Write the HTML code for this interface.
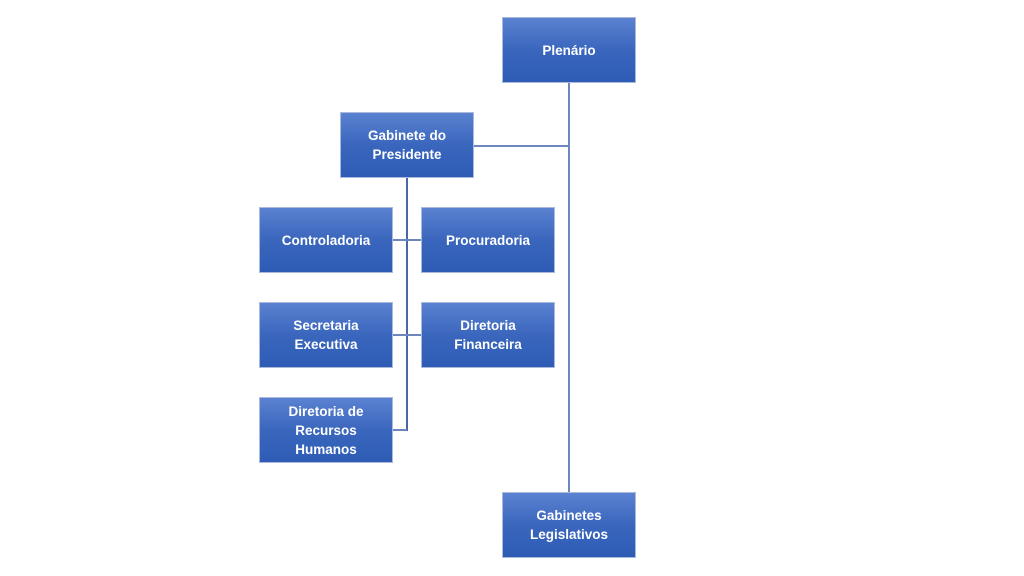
<!DOCTYPE html>
<html><head><style>
body{margin:0;width:1024px;height:576px;background:#fff;position:relative;overflow:hidden;font-family:"Liberation Sans",sans-serif}
.b{position:absolute;width:134px;height:66px;background:linear-gradient(#5b82d1,#3a66bd 50%,#2e5cb5);border:1px solid #aab9dc;box-sizing:border-box;color:#fff;font-weight:bold;font-size:13.5px;line-height:19px;display:flex;align-items:center;justify-content:center;text-align:center}
.l{position:absolute;background:#6d86bd}
</style></head><body>
<div class="l" style="left:568px;top:83px;width:2px;height:410px"></div>
<div class="l" style="left:473px;top:145px;width:96px;height:2px"></div>
<div class="l" style="left:406px;top:178px;width:2px;height:253px;background:#4a66a5"></div>
<div class="l" style="left:392px;top:239px;width:29px;height:2px"></div>
<div class="l" style="left:392px;top:334px;width:29px;height:2px"></div>
<div class="l" style="left:392px;top:429px;width:15px;height:2px"></div>
<div class="b" style="left:502px;top:17px">Plenário</div>
<div class="b" style="left:340px;top:112px">Gabinete do<br>Presidente</div>
<div class="b" style="left:259px;top:207px">Controladoria</div>
<div class="b" style="left:421px;top:207px">Procuradoria</div>
<div class="b" style="left:259px;top:302px">Secretaria<br>Executiva</div>
<div class="b" style="left:421px;top:302px">Diretoria<br>Financeira</div>
<div class="b" style="left:259px;top:397px">Diretoria de<br>Recursos<br>Humanos</div>
<div class="b" style="left:502px;top:492px">Gabinetes<br>Legislativos</div>
</body></html>
